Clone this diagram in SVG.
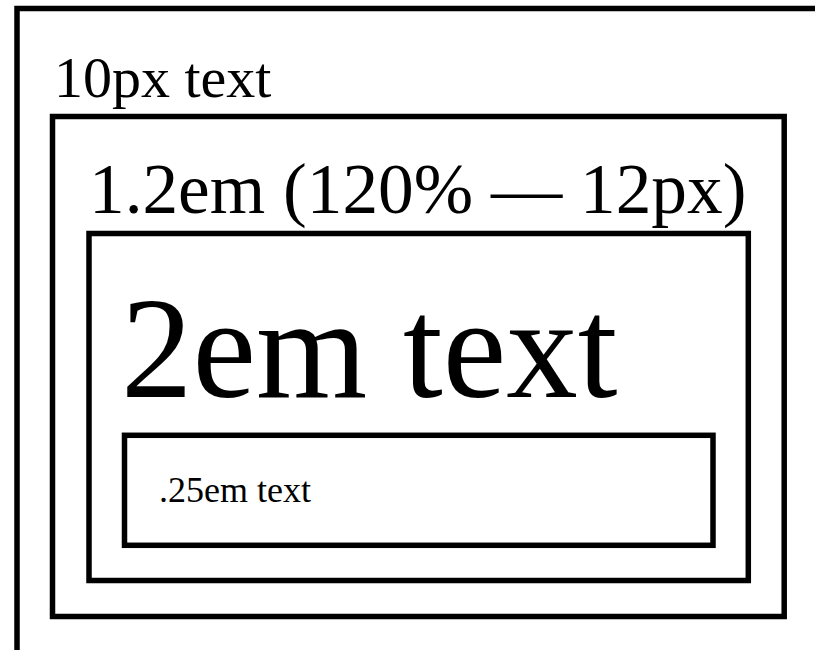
<svg xmlns="http://www.w3.org/2000/svg" width="815" height="650" viewBox="0 0 815 650">
<style>
.box{fill:none;stroke:#000;stroke-width:5.5}
.t{font-family:"Liberation Serif","Times New Roman",serif;fill:#000}
</style>
<rect x="0" y="0" width="815" height="650" fill="#fff"/>
<g id="outer">
<rect class="box" x="17" y="8.5" width="820" height="680"/>
<text class="t" x="54" y="97" font-size="58">10px text</text>
</g>
<g id="box12">
<rect class="box" x="52.5" y="116.5" width="731.7" height="500"/>
<text class="t" x="89" y="213" font-size="71.3">1.2em (120% — 12px)</text>
</g>
<g id="box2em">
<rect class="box" x="89" y="233.5" width="659.3" height="347"/>
<text class="t" x="121" y="396.7" font-size="143">2em text</text>
</g>
<g id="box025">
<rect class="box" x="124.5" y="435.3" width="588.5" height="110"/>
<text class="t" x="159" y="501.7" font-size="36">.25em text</text>
</g>
</svg>
